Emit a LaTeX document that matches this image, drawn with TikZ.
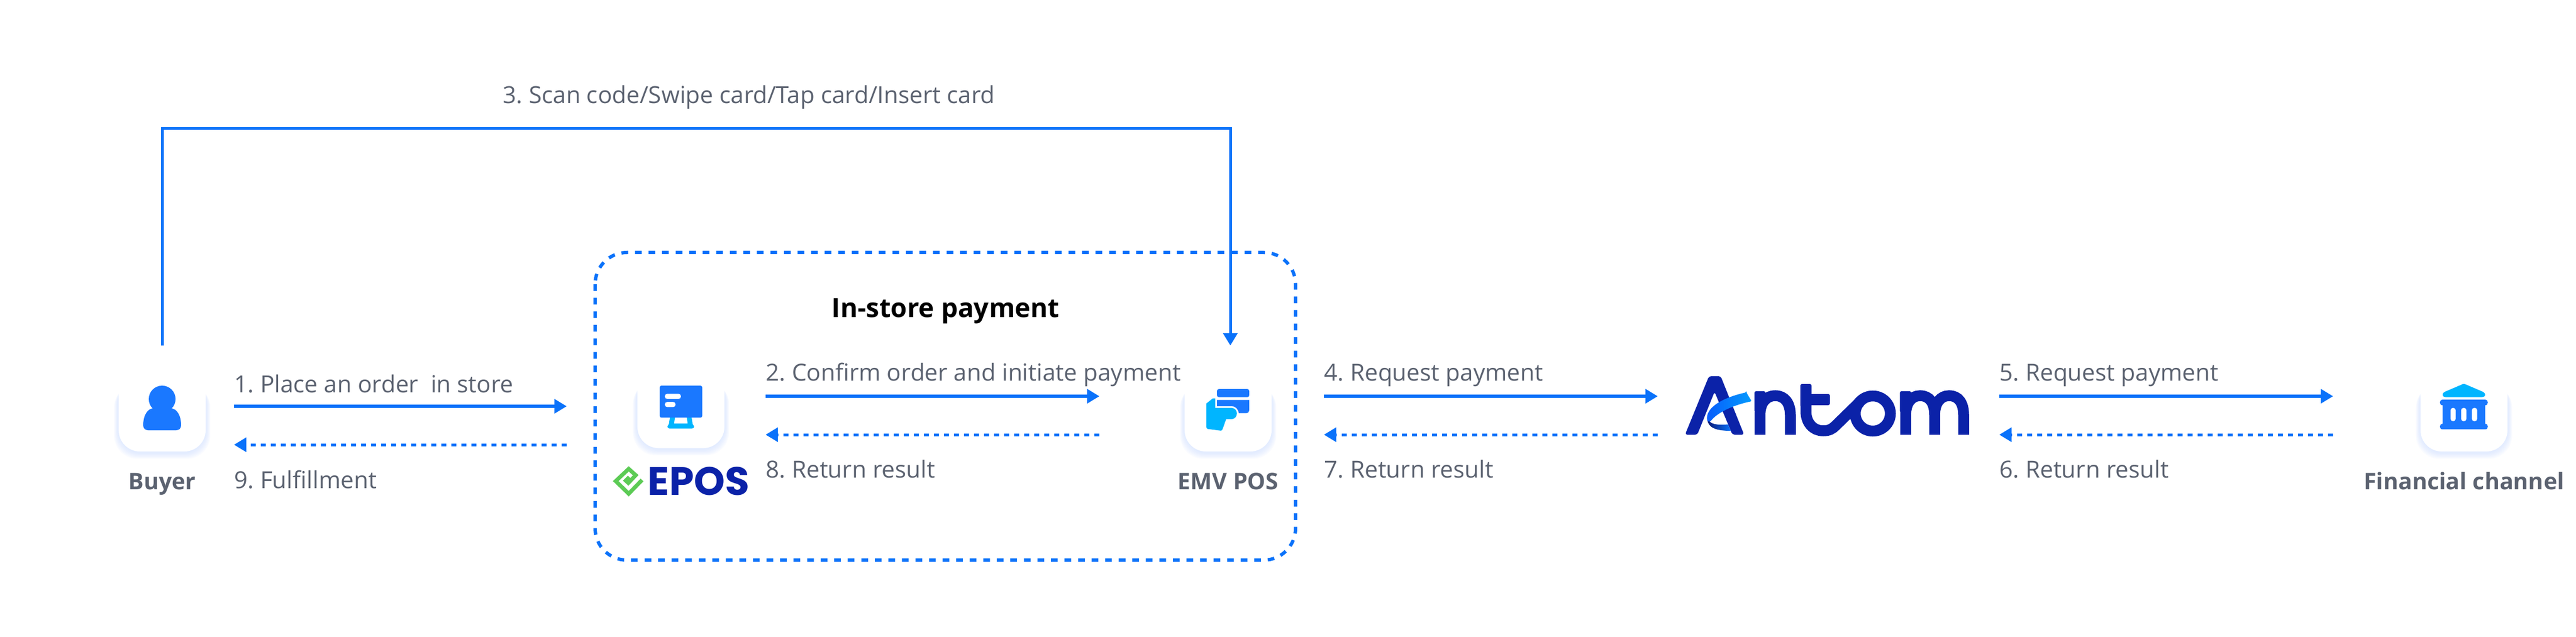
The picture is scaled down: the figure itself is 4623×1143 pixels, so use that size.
\documentclass[tikz,border=0pt]{standalone}
\usepackage{fontspec}
\setmainfont{Open Sans}
\newfontfamily\logofont{Poppins}
\usetikzlibrary{arrows.meta}
\frenchspacing
\definecolor{flow}{HTML}{0A72FA}
\definecolor{iconblue}{HTML}{1A78FF}
\definecolor{iconcyan}{HTML}{00B5FF}
\definecolor{ink}{HTML}{5B6270}
\definecolor{navy}{HTML}{0B22A8}
\definecolor{leaf}{HTML}{5CCB55}
\definecolor{glow}{HTML}{C9DCFF}
\tikzset{
 flowline/.style={draw=flow,line width=0.05cm},
 solidflow/.style={flowline,-{Triangle[length=0.22cm,width=0.25cm]}},
 dotflow/.style={flowline,dash pattern=on 0.09cm off 0.09cm,-{Triangle[length=0.22cm,width=0.25cm]}},
 frame/.style={draw=flow,line width=0.06cm,dash pattern=on 0.12cm off 0.123cm,rounded corners=0.57cm},
 lab/.style={font=\fontsize{12.03}{12}\selectfont,text=ink,anchor=base west,inner sep=0pt},
 actor/.style={font=\fontsize{11.7}{12}\selectfont\bfseries,text=ink,anchor=base,inner sep=0pt},
 cardbox/.style={fill=white,rounded corners=0.38cm,minimum width=1.56cm,minimum height=1.4cm,inner sep=0pt},
 brandstroke/.style={draw=navy,line width=0.195cm},
 icon/.style={x=0.0033333cm,y=-0.0033333cm},
}
\newcommand{\cardglow}[2]{%
 \foreach \g in {1,...,7}{%
  \fill[glow,opacity=0.09,rounded corners=0.42cm]
   ({#1-78-\g*1.2},{#2-60+\g*1.4}) rectangle ({#1+78+\g*1.2},{#2+72+\g*1.6});
 }}
\begin{document}
\begin{tikzpicture}[x=0.01cm,y=-0.01cm]
\useasboundingbox (0,0) rectangle (4623,1143);
\fill[white] (0,0) rectangle (4623,1143);

% frame
\draw[frame] (1068,453) rectangle (2325,1005);
\node[font=\fontsize{13.5}{13.5}\selectfont\bfseries,text=black,anchor=base,inner sep=0pt] (title) at (1697,570) {In-store payment};

% cards
\cardglow{291}{740}
\cardglow{1222}{734}
\cardglow{2204}{740}
\cardglow{4422}{740}
\node[cardbox] (buyer) at (291,740) {};
\node[cardbox] (epos) at (1222,734) {};
\node[cardbox] (emv) at (2204,740) {};
\node[cardbox] (bank) at (4422,740) {};

% buyer icon
\fill[iconblue] (291,716) circle (24);
\fill[iconblue] (268,735) .. controls (279,729) and (303,729) .. (314,735)
  .. controls (322,741) and (325,752) .. (325,763)
  .. controls (325,769) and (321,772) .. (316,772) -- (266,772)
  .. controls (261,772) and (257,769) .. (257,763)
  .. controls (257,752) and (260,741) .. (268,735) -- cycle;

% EPOS icon
\begin{scope}[shift={(1050,620)},icon]
 \fill[iconcyan,even odd rule] (458,385) -- (452,423) -- (444,436) .. controls (444,443) and (449,447) .. (455,447)
   -- (577,447) .. controls (584,447) and (588,443) .. (588,436) -- (580,423) -- (574,385) -- cycle
   (485,385) -- (480,420) -- (553,420) -- (548,385) -- cycle;
 \fill[iconblue,rounded corners=0.035cm] (402,216) rectangle (632,389);
 \fill[white,rounded corners=0.045cm] (430,260) rectangle (517,288);
 \fill[white,rounded corners=0.045cm] (430,304) rectangle (488,332);
\end{scope}

% EMV icon
\begin{scope}[shift={(2080,620)},icon]
 \fill[iconblue,rounded corners=0.03cm] (313,278) -- (313,235) -- (486,235) -- (486,278) -- cycle;
 \fill[iconblue] (313,293) -- (486,293) -- (486,350) .. controls (486,359) and (479,365) .. (471,365) -- (430,365)
   .. controls (428,343) and (412,327) .. (392,327) -- (313,327) -- cycle;
 \fill[iconcyan] (256,312) -- (290,285) -- (303,285) -- (303,336) -- (390,336)
   .. controls (408,336) and (420,350) .. (420,366) .. controls (420,383) and (408,397) .. (390,397)
   -- (362,397) -- (343,450) .. controls (341,456) and (338,459) .. (333,459) -- (264,450)
   .. controls (259,449) and (256,446) .. (256,441) -- cycle;
\end{scope}

% bank icon
\begin{scope}[shift={(4250,620)},icon]
 \fill[iconcyan] (510,208) .. controls (514,206) and (518,206) .. (522,208) -- (620,250)
   .. controls (636,258) and (634,278) .. (615,278) -- (417,278)
   .. controls (398,278) and (396,258) .. (412,250) -- cycle;
 \fill[iconblue,even odd rule] (401,292) -- (631,292) .. controls (650,292) and (650,322) .. (631,322)
   -- (631,422) .. controls (650,422) and (650,452) .. (631,452)
   -- (401,452) .. controls (382,452) and (382,422) .. (401,422)
   -- (401,322) .. controls (382,322) and (382,292) .. (401,292) -- cycle;
 \fill[white,rounded corners=0.045cm] (444,336) rectangle (472,408);
 \fill[white,rounded corners=0.045cm] (501,336) rectangle (530,408);
 \fill[white,rounded corners=0.045cm] (559,336) rectangle (588,408);
\end{scope}

% EPOS logo
\begin{scope}[shift={(1095,830)},icon]
 \draw[leaf,line width=0.07cm,line join=miter]
   (172,94) -- (100,168) -- (30,100) -- (100,34) -- (138,68) -- (98,110) -- (84,97) -- (103,78);
\end{scope}
\node[font=\fontsize{20.2}{20}\selectfont\logofont\bfseries,text=navy,anchor=base west,inner sep=0pt] (eposlogo) at (1162,888) {EPOS};

% Antom logo
\begin{scope}[shift={(3000,640)}]
 \fill[navy,rounded corners=0.04cm] (24,140) -- (67,35) -- (88,35) -- (130,140) -- (109,140) -- (77,63) -- (46,140) -- cycle;
 % n
 \fill[navy,rounded corners=0.03cm] (148.5,62) rectangle (168.5,100);
 \draw[brandstroke] (158.5,140) -- (158.5,105) .. controls (158.5,82) and (170,70) .. (186,70)
   .. controls (202,70) and (213,82) .. (213,105) -- (213,140);
 % t
 \fill[navy,rounded corners=0.03cm] (231,49) rectangle (251,90);
 \fill[navy,rounded corners=0.03cm] (240,67) rectangle (284,87);
 \draw[brandstroke] (241,80) -- (241,98) .. controls (241,120) and (255,133) .. (272,133)
   .. controls (282,133) and (288,130) .. (294,124) -- (338,81);
 % o
 \draw[brandstroke] (361,102) circle (31.5);
 % m
 \fill[navy,rounded corners=0.03cm] (409.5,62) rectangle (430,100);
 \draw[brandstroke] (420,140) -- (420,105) .. controls (420,82) and (431,70) .. (446,70)
   .. controls (462,70) and (472,82) .. (472,105) -- (472,140);
 \draw[brandstroke] (472,105) .. controls (472,82) and (483,70) .. (498,70)
   .. controls (514,70) and (524,82) .. (524,105) -- (524,140);
 % ribbon
 \shade[left color=navy!70!black,right color=flow] (68,116) .. controls (72,122) and (88,123) .. (101,121.5)
   -- (106,133) .. controls (80,133) and (66,128) .. (64,113) -- cycle;
 \shade[left color=flow!80!blue,right color=iconcyan!60!flow,rounded corners=0.02cm] (134,64) -- (143.5,80)
   .. controls (110,87) and (82,100) .. (69,117) -- (64,116) .. controls (60,92) and (90,74) .. (134,64) -- cycle;
\end{scope}

% connectors
\coordinate (topfrom) at (291,620);
\coordinate (topleft) at (291,231);
\coordinate (topright) at (2208,231);
\coordinate (topto) at (2208,620);
\draw[solidflow] (topfrom) -- (topleft) -- (topright) -- (topto);

\coordinate (oneA) at (420,729); \coordinate (oneB) at (1017,729);
\coordinate (nineA) at (1017,798); \coordinate (nineB) at (420,798);
\coordinate (twoA) at (1374,711); \coordinate (twoB) at (1973,711);
\coordinate (eightA) at (1973,780); \coordinate (eightB) at (1374,780);
\coordinate (fourA) at (2376,711); \coordinate (fourB) at (2975,711);
\coordinate (sevenA) at (2975,780); \coordinate (sevenB) at (2376,780);
\coordinate (fiveA) at (3588,711); \coordinate (fiveB) at (4187,711);
\coordinate (sixA) at (4187,780); \coordinate (sixB) at (3588,780);
\draw[solidflow] (oneA) -- (oneB);
\draw[dotflow] (nineA) -- (nineB);
\draw[solidflow] (twoA) -- (twoB);
\draw[dotflow] (eightA) -- (eightB);
\draw[solidflow] (fourA) -- (fourB);
\draw[dotflow] (sevenA) -- (sevenB);
\draw[solidflow] (fiveA) -- (fiveB);
\draw[dotflow] (sixA) -- (sixB);

% labels
\node[lab] (l3) at (902,186) {3. Scan code/Swipe card/Tap card/Insert card};
\node[lab] (l1) at (420,704) {1. Place an order\ \ in store};
\node[lab] (l9) at (420,876) {9. Fulfillment};
\node[lab] (l2) at (1374,683) {2. Confirm order and initiate payment};
\node[lab] (l8) at (1374,857) {8. Return result};
\node[lab] (l4) at (2376,683) {4. Request payment};
\node[lab] (l7) at (2376,857) {7. Return result};
\node[lab] (l5) at (3588,683) {5. Request payment};
\node[lab] (l6) at (3588,857) {6. Return result};
\node[actor] (nbuyer) at (291,878) {Buyer};
\node[actor] (nemv) at (2204,878) {EMV POS};
\node[actor] (nbank) at (4422,878) {Financial channel};
\end{tikzpicture}
\end{document}
